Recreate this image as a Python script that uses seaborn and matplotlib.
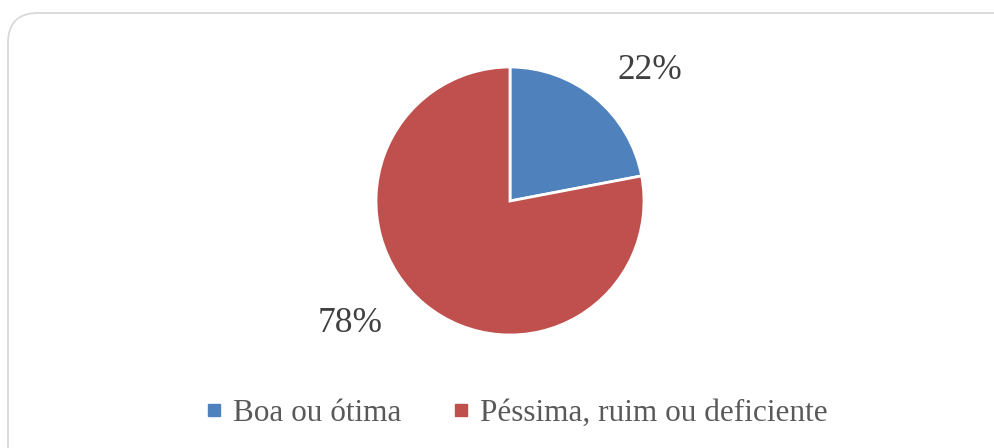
import matplotlib
matplotlib.use("Agg")
import matplotlib.pyplot as plt
from matplotlib.patches import FancyBboxPatch
from matplotlib.lines import Line2D
import seaborn as sns

categories = ["Boa ou ótima", "Péssima, ruim ou deficiente"]
values = [22, 78]
colors = ["#4F81BD", "#C0504D"]

sns.set_theme(style="white")
plt.rcParams['font.family'] = ['Liberation Serif', 'DejaVu Serif']

W, H = 995, 448
fig = plt.figure(figsize=(W / 100, H / 100), dpi=100)
fig.patch.set_facecolor("white")

# chart frame
frame = FancyBboxPatch((8 / W, -40 / H), (W + 40) / W, (H + 27) / H,
                       boxstyle="round,pad=0,rounding_size=0.03",
                       transform=fig.transFigure, facecolor="white",
                       edgecolor="#D9D9D9", linewidth=1.3, mutation_aspect=W / H,
                       zorder=-10)
fig.patches.append(frame)

cx, cy, r = 510, 201, 134
ax = fig.add_axes([(cx - r) / W, (H - cy - r) / H, 2 * r / W, 2 * r / H])
ax.set_zorder(5)
ax.patch.set_alpha(0)
wedges, _ = ax.pie(values, colors=colors, startangle=90, counterclock=False,
                   radius=1, wedgeprops=dict(edgecolor="white", linewidth=2))
ax.set_xlim(-1, 1)
ax.set_ylim(-1, 1)
ax.set_aspect("equal")
ax.axis("off")

label_pos = [(1.045, 0.975), (-1.194, -0.915)]
for v, (lx, ly) in zip(values, label_pos):
    ax.text(lx, ly, f"{v}%", ha="center", va="center", fontsize=25.5,
            color="#404040", clip_on=False)

handles = [Line2D([0], [0], marker="s", linestyle="none", markersize=8.5,
                  markerfacecolor=c, markeredgecolor=c) for c in colors]
leg = fig.legend(handles, categories, loc="center", bbox_to_anchor=(517 / W, 1 - 413 / H),
                 ncol=2, frameon=False, fontsize=22.5, handletextpad=0.35,
                 columnspacing=1.65, labelcolor="#595959", handlelength=0.5)
leg.set_zorder(6)

fig.savefig("out.png", dpi=100)
